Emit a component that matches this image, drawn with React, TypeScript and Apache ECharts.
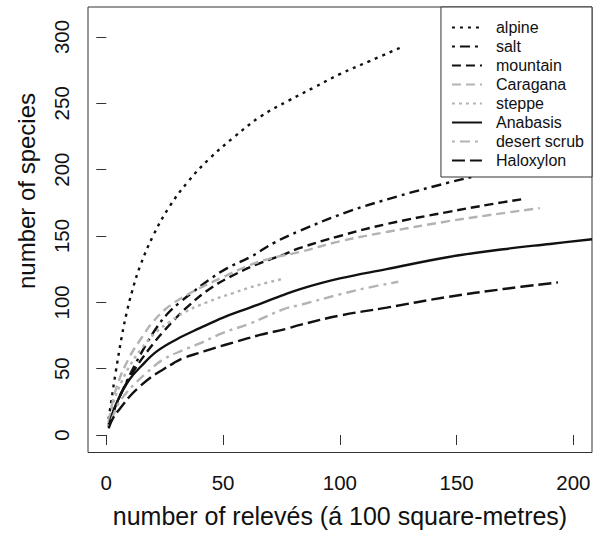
import React, { useEffect, useRef } from "react";
import * as echarts from "echarts";

const FONT = "'Liberation Sans', Arial, Helvetica, sans-serif";

const xTicks = [0, 50, 100, 150, 200];
const yTicks = [0, 50, 100, 150, 200, 250, 300];
const xTitle = "number of relevés (á 100 square-metres)";
const yTitle = "number of species";

const seriesNames = ["alpine", "salt", "mountain", "Caragana", "steppe", "Anabasis", "desert scrub", "Haloxylon"];

const alpine = [[1, 12], [2, 24], [4, 47], [6.6, 74], [8.7, 92], [11, 108], [14.4, 127], [20, 150], [27, 172], [35, 191], [44, 208], [55, 225], [66, 240], [78, 252], [89, 262], [100, 272], [113, 282], [126, 292]];
const salt = [[1, 8], [4, 22], [7.3, 35], [12, 52], [17.3, 69], [21.6, 81], [26, 91], [31.5, 100], [38, 109], [44, 117], [52, 126], [61.5, 134], [72, 145], [83, 154], [103, 168], [125, 180], [146, 190], [165, 198], [175, 202]];
const mountain = [[1, 7], [4, 22], [8, 37], [12, 49], [18, 64], [25, 79], [35, 97], [45, 111], [55, 121], [65, 129], [76, 136], [83, 141], [100, 150], [120, 159], [146, 168], [165, 174], [179, 178]];
const caragana = [[1, 10], [4.4, 36], [10, 59], [15.8, 75], [19.4, 84], [25.8, 95.5], [33, 104], [41.5, 112], [50, 119], [60, 127], [70, 133], [83, 138], [100, 146], [120, 153], [146, 161], [165, 166], [185.6, 171]];
const steppe = [[1, 9], [3, 24], [6, 38], [10, 52], [15, 65], [21.6, 78], [27, 85], [33, 92], [43, 100], [54.3, 107], [65, 113], [76.5, 118]];
const anabasis = [[1, 6], [3, 18], [6, 30], [10, 42], [15, 52], [21.6, 63], [30, 72], [40, 80.5], [50, 88.5], [61.5, 96], [75, 105], [83, 110], [100, 118], [120, 125], [146, 134], [170, 140], [190, 144], [208, 147.5]];
const desertScrub = [[1, 6], [3, 15], [5, 23], [8.7, 32], [13, 40], [17.3, 47], [24.4, 57], [33, 64], [40, 69], [50, 77], [61.5, 84], [75.7, 94.7], [83, 98], [100, 106], [112, 111], [125, 115.5]];
const haloxylon = [[1, 5], [3, 13], [5.9, 20], [10, 29], [14, 36], [18.7, 43], [24, 49], [28.7, 54], [33, 58], [40, 62], [47.2, 66], [55, 70], [65.8, 75.4], [77, 80], [83, 83], [100, 90], [120, 96], [146, 104], [170, 110], [193.4, 115]];

const BLACK = "#111111";
const GRAY = "#b3b3b3";

export default function App() {
  const ref = useRef<HTMLDivElement>(null);
  useEffect(() => {
    if (!ref.current) return;
    const chart = echarts.init(ref.current, null, { renderer: "svg" });
    const mk = (name: string, data: number[][], color: string, type: any) => ({
      name,
      type: "line",
      data,
      symbol: "none",
      showSymbol: false,
      smooth: 0.4,
      clip: true,
      lineStyle: { color, width: 2.4, type },
      itemStyle: { color },
    });
    chart.setOption({
      animation: false,
      backgroundColor: "#ffffff",
      textStyle: { fontFamily: FONT },
      grid: {
        left: 88,
        right: 9,
        top: 7,
        bottom: 89.5,
        show: true,
        borderColor: "#333",
        borderWidth: 1,
        backgroundColor: "transparent",
      },
      xAxis: {
        type: "value",
        min: -7.83,
        max: 207.96,
        axisLine: { show: false },
        axisTick: { show: true, length: 10, customValues: xTicks, lineStyle: { color: "#333", width: 1 } },
        axisLabel: { customValues: xTicks, fontSize: 20.5, color: "#111", margin: 19, fontFamily: FONT },
        splitLine: { show: false },
        name: xTitle,
        nameLocation: "middle",
        nameGap: 51,
        nameTextStyle: { fontSize: 25, color: "#111", fontFamily: FONT },
      },
      yAxis: {
        type: "value",
        min: -13.2,
        max: 322.6,
        axisLine: { show: false },
        axisTick: { show: true, length: 10, customValues: yTicks, lineStyle: { color: "#333", width: 1 } },
        axisLabel: { customValues: yTicks, fontSize: 20.5, color: "#111", margin: 16, rotate: 90, fontFamily: FONT },
        splitLine: { show: false },
      },
      graphic: [
        {
          type: "text",
          x: 26,
          y: 191,
          rotation: Math.PI / 2,
          style: {
            text: yTitle,
            fontSize: 24,
            fontFamily: FONT,
            fill: "#111",
            align: "center",
            verticalAlign: "middle",
          },
        },
      ],
      legend: {
        orient: "vertical",
        right: 9,
        top: 7,
        backgroundColor: "#ffffff",
        borderColor: "#333",
        borderWidth: 1,
        borderRadius: 0,
        padding: [11, 8, 7, 10],
        itemWidth: 30,
        itemHeight: 14,
        itemGap: 0,
        itemStyle: { opacity: 0 },
        textStyle: { fontSize: 16, lineHeight: 19, color: "#111", fontFamily: FONT, padding: [0, 0, 0, 9] },
        data: seriesNames,
      },
      series: [
        mk("alpine", alpine, BLACK, [3, 5]),
        mk("salt", salt, BLACK, [3, 5, 10, 5]),
        mk("mountain", mountain, BLACK, [9, 5]),
        mk("Caragana", caragana, GRAY, [9, 5]),
        mk("steppe", steppe, GRAY, [3, 4]),
        mk("Anabasis", anabasis, BLACK, "solid"),
        mk("desert scrub", desertScrub, GRAY, [3, 5, 10, 5]),
        mk("Haloxylon", haloxylon, BLACK, [13, 5]),
      ],
    });
    return () => chart.dispose();
  }, []);
  return <div ref={ref} style={{ position: "fixed", left: 0, top: 0, width: 601, height: 542 }} />;
}
